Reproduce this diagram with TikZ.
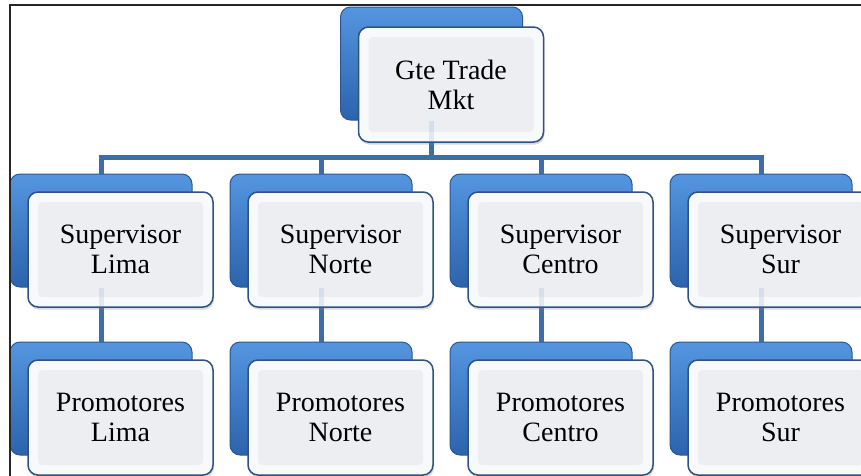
\documentclass[tikz,border=0pt]{standalone}
\usepackage{fontspec}
\setmainfont{Liberation Serif}
\usetikzlibrary{shadows}
\definecolor{backtop}{HTML}{5595E0}
\definecolor{backbot}{HTML}{2C63AC}
\definecolor{backedge}{HTML}{2A5893}
\definecolor{frontedge}{HTML}{2E5283}
\definecolor{panel}{HTML}{ECEEF2}
\definecolor{rim}{HTML}{F8F9FA}
\definecolor{connc}{HTML}{3E6EAA}
\tikzset{
 backbox/.style={rounded corners=10pt, minimum width=182pt, minimum height=113pt, inner sep=0pt,
   draw=backedge, line width=1pt, top color=backtop, bottom color=backbot},
 frontbox/.style={rounded corners=10pt, minimum width=185pt, minimum height=115pt, inner sep=0pt,
   draw=frontedge, line width=1.5pt, fill=rim,
   drop shadow={shadow xshift=1pt, shadow yshift=-2.5pt, opacity=0.3},
   path picture={\fill[panel, rounded corners=4pt] ([shift={(10pt,-10pt)}]path picture bounding box.north west) rectangle ([shift={(-10pt,10pt)}]path picture bounding box.south east);},
   font=\fontsize{28}{30}\selectfont, align=center, text=black},
 connline/.style={draw=connc, line width=5pt},
 faintline/.style={draw=connc, line width=5pt, opacity=0.12}
}
\begin{document}
\begin{tikzpicture}[x=1pt,y=-1pt]
\useasboundingbox (0,0) rectangle (861,475);
\fill[white] (0,0) rectangle (861,475);
\clip (0,0) rectangle (861,475);
\coordinate (bus) at (0,157);
% back boxes
\node[backbox] (gteB) at (431.5,63.5) {};
\foreach \n/\i in {Lima/0,Norte/1,Centro/2,Sur/3}{
  \node[backbox] (supB\n) at (101+220*\i,230.5) {};
  \node[backbox] (proB\n) at (101+220*\i,398.5) {};
}
% connectors
\draw[connline] (gteB.south) -- (gteB.south |- bus);
\draw[connline] (supBLima.north) |- (gteB.south |- bus) -| (supBSur.north);
\draw[connline] (supBNorte.north) -- (supBNorte.north |- bus);
\draw[connline] (supBCentro.north) -- (supBCentro.north |- bus);
\foreach \n in {Lima,Norte,Centro,Sur}{
  \draw[connline] (supB\n.south) -- (proB\n.north);
}
% front boxes
\node[frontbox] (gte) at (451,84.5) {Gte Trade\\Mkt};
\foreach \n/\i in {Lima/0,Norte/1,Centro/2,Sur/3}{
  \node[frontbox] (sup\n) at (120.5+220*\i,249.5) {Supervisor\\\n};
  \node[frontbox] (pro\n) at (120.5+220*\i,417.5) {Promotores\\\n};
  \draw[faintline] (supB\n.south) -- (supB\n.south |- sup\n.south);
}
\draw[faintline] (gteB.south) -- (gteB.south |- gte.south);
% frame
\draw[line width=2pt, black!85] (10,480) -- (10,5) -- (870,5);
\end{tikzpicture}
\end{document}
